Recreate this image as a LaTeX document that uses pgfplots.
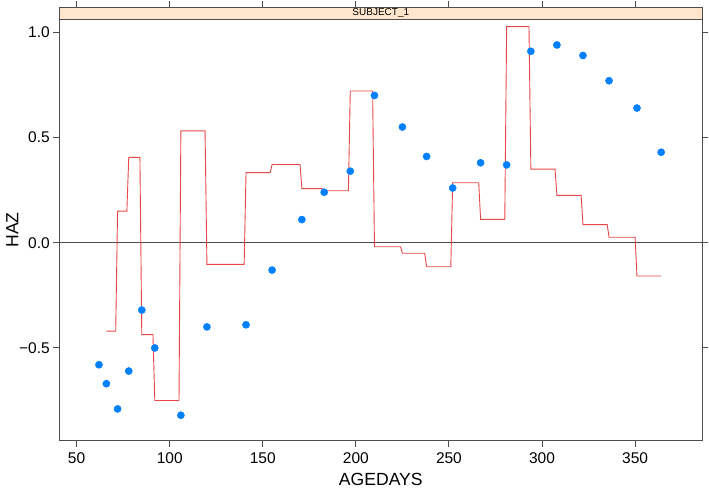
\documentclass[border=0pt]{standalone}
\usepackage{fontspec}
\setmainfont{Liberation Sans}
\usepackage{pgfplots}
\pgfplotsset{compat=1.18}
\usetikzlibrary{calc}
\definecolor{ptblue}{HTML}{0080FF}
\definecolor{stepred}{RGB}{232,70,72}
\definecolor{stripbg}{HTML}{FFE5CC}
\definecolor{framegray}{HTML}{4D4D4D}
\begin{document}
\begin{tikzpicture}
\begin{axis}[
  name=main,
  scale only axis,
  width=643pt, height=421.4pt,
  xmin=40.7, xmax=386.1,
  ymin=-0.941, ymax=1.062,
  axis line style={framegray, line width=0.9pt},
  every tick/.style={framegray, line width=0.9pt},
  tick align=outside,
  major tick length=6pt,
  xtick={50,100,150,200,250,300,350},
  xtick pos=lower,
  ytick={-0.5,0,0.5,1},
  yticklabels={−0.5,0.0,0.5,1.0},
  ytick pos=both,
  yticklabel pos=left,
  /pgf/number format/assume math mode=true,
  tick label style={font=\fontsize{15.5}{18}\selectfont, text=black},
  xticklabel style={yshift=-2pt},
  xlabel={AGEDAYS},
  label style={font=\fontsize{17.6}{20}\selectfont},
  xlabel style={at={(rel axis cs:0.5,0)}, anchor=center, yshift=-39pt},
  clip=true,
]
\addplot[framegray, line width=0.9pt] coordinates {(30,0) (400,0)};
\addplot[stepred, line width=0.9pt] coordinates {
(66,-0.42) (71,-0.42) (72,0.15) (77,0.15) (78,0.406) (84,0.406)
(85,-0.437) (91,-0.437) (92,-0.75) (105,-0.75) (106,0.532) (119,0.532)
(120,-0.103) (140,-0.103) (141,0.333) (154,0.333) (155,0.372) (170,0.372)
(171,0.257) (182,0.257) (183,0.247) (196,0.247) (197,0.721) (209,0.721)
(210,-0.019) (224,-0.019) (225,-0.05) (237,-0.05) (238,-0.114) (251,-0.114)
(252,0.285) (266,0.285) (267,0.111) (280,0.111) (281,1.027) (293,1.027)
(294,0.35) (307,0.35) (308,0.225) (321,0.225) (322,0.086) (335,0.086)
(336,0.026) (350,0.026) (351,-0.158) (364,-0.158)};
\addplot[only marks, mark=*, mark size=3.6pt, ptblue, mark options={draw=ptblue, fill=ptblue}] coordinates {
(62,-0.58) (66,-0.67) (72,-0.79) (78,-0.61) (85,-0.32) (92,-0.50)
(106,-0.82) (120,-0.40) (141,-0.39) (155,-0.13) (171,0.11) (183,0.24)
(197,0.34) (210,0.70) (225,0.55) (238,0.41) (252,0.26) (267,0.38)
(281,0.37) (294,0.91) (308,0.94) (322,0.89) (336,0.77) (351,0.64) (364,0.43)};
\end{axis}
\begin{axis}[
  at={(main.north west)}, anchor=south west,
  scale only axis,
  width=643pt, height=12pt,
  xmin=40.7, xmax=386.1,
  ymin=0, ymax=1,
  axis background/.style={fill=stripbg},
  axis line style={framegray, line width=0.9pt},
  every tick/.style={framegray, line width=0.9pt},
  tick align=outside,
  major tick length=6pt,
  xtick={50,100,150,200,250,300,350},
  xticklabels={},
  xtick pos=upper,
  ytick=\empty,
]
\node[font=\fontsize{10}{12}\selectfont, text=black] at (rel axis cs:0.5,0.5) {SUBJECT\_1};
\end{axis}
\node[rotate=90, font=\fontsize{17.6}{20}\selectfont, anchor=center] at ($(main.west)+(-47pt,0)$) {HAZ};
\pgfresetboundingbox
\path[use as bounding box] ($(main.south west)+(-59.3pt,-51.3pt)$) rectangle ($(main.north east)+(6.7pt,19.3pt)$);
\end{tikzpicture}
\end{document}
